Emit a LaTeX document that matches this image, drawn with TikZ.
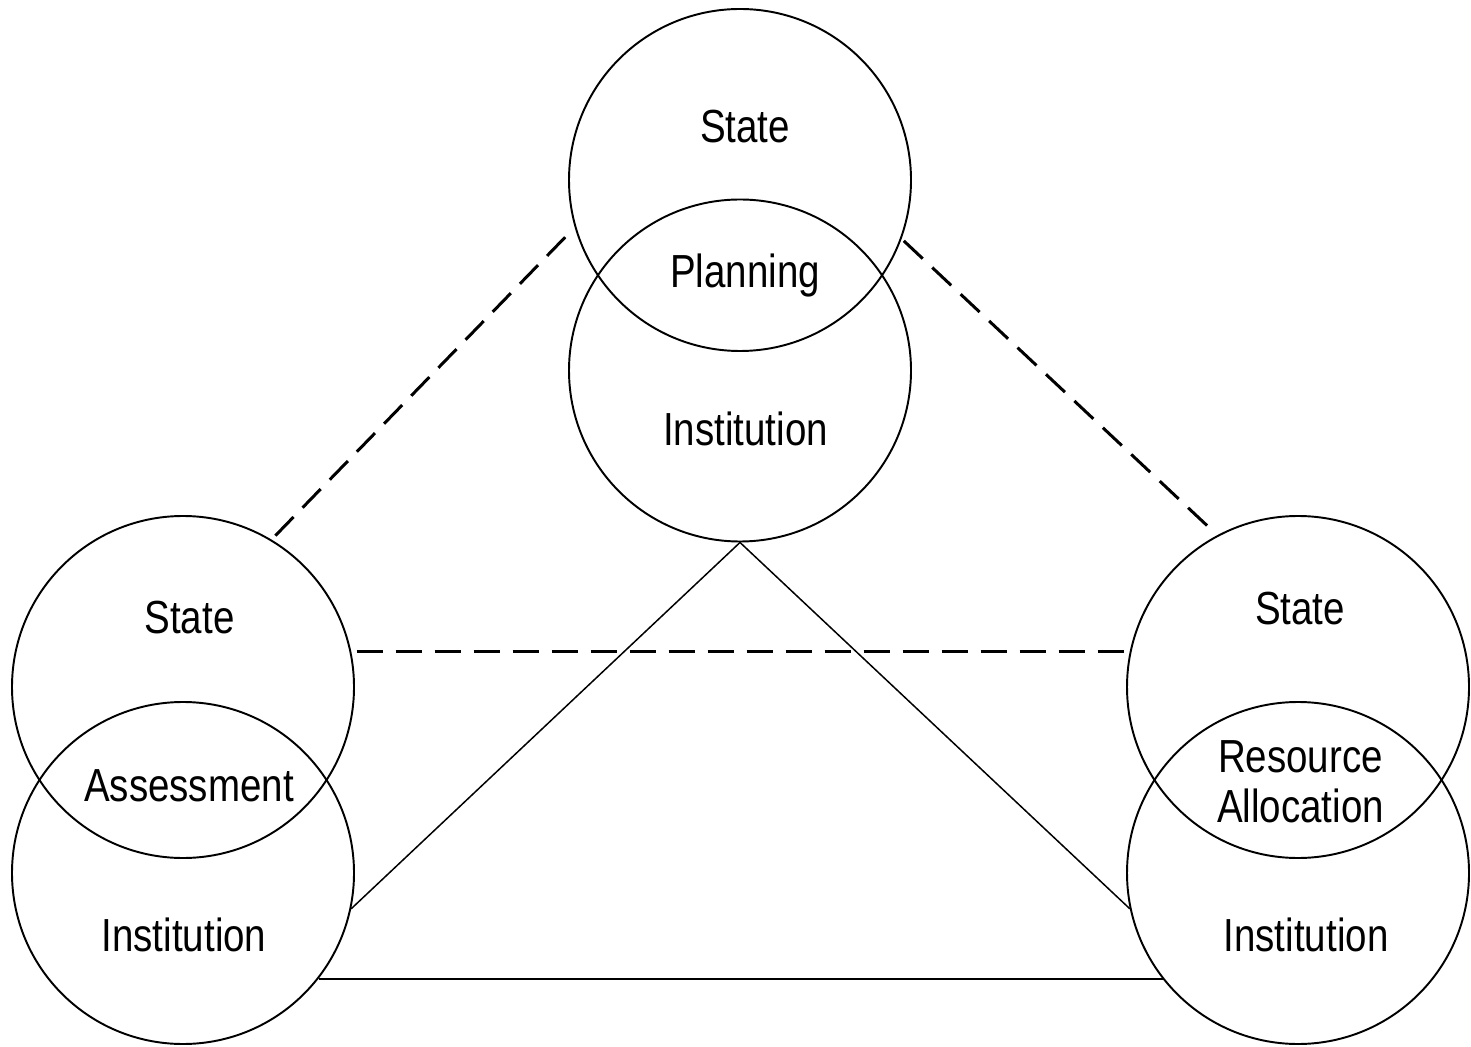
\documentclass[tikz,border=0pt]{standalone}
\usepackage{fontspec}
\setmainfont{Liberation Sans}[FakeStretch=0.83]
\usepackage{tikz}

\begin{document}
\begin{tikzpicture}[
    ring/.style={
        circle,
        draw=black,
        line width=1.1pt,
        minimum size=6.84cm,
        inner sep=0pt,
    },
    word/.style={
        font=\fontsize{26.4}{28}\selectfont,
        anchor=base,
        align=center,
        inner sep=0pt,
    },
    link/.style={
        draw=black,
        line width=1.7pt,
        dash pattern=on 0.52cm off 0.26cm,
    },
    tie/.style={
        draw=black,
        line width=0.85pt,
    },
]
\useasboundingbox (0, 0) rectangle (29.42, 20.92);

% Overlapping pairs: State above, Institution below
\node[ring] (TS) at (14.80, 17.32) {};
\node[ring] (TI) at (14.80, 13.51) {};
\node[ring] (LS) at (3.66, 7.18) {};
\node[ring] (LI) at (3.66, 3.46) {};
\node[ring] (RS) at (25.96, 7.18) {};
\node[ring] (RI) at (25.96, 3.46) {};

\node[word] (TSt) at (14.90, 18.06) {State};
\node[word] (TPl) at (14.90, 15.16) {Planning};
\node[word] (TIn) at (14.91, 12.00) {Institution};
\node[word] (LSt) at (3.79, 8.26) {State};
\node[word] (LAs) at (3.78, 4.90) {Assessment};
\node[word] (LIn) at (3.68, 1.90) {Institution};
\node[word] (RSt) at (26.00, 8.44) {State};
\node[word] (RRe) at (26.01, 4.48) {Resource\\Allocation};
\node[word] (RIn) at (26.12, 1.90) {Institution};

\draw[link, shorten <=0.11cm, shorten >=0.11cm] (LS.59) -- (TS.196);
\draw[link, shorten <=0.06cm, shorten >=0.10cm] (TS.340) -- (RS.118);
\draw[link, shorten <=0.11cm] (LS.12) -- (RS.168);

\draw[tie] (LI.348) -- (TI.south) -- (RI.192);
\draw[tie] (LI.322) -- (RI.218);

\end{tikzpicture}
\end{document}
